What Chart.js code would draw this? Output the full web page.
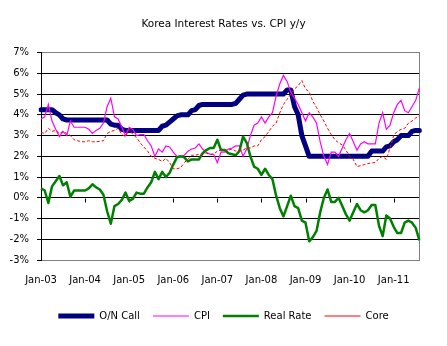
<!DOCTYPE html>
<html>
<head>
<meta charset="utf-8">
<script src="https://cdn.jsdelivr.net/npm/chart.js@4.4.1/dist/chart.umd.min.js"></script>
<style>
  html, body { margin: 0; padding: 0; background: #fff; }
  #c { display: block; }
</style>
</head>
<body>
<canvas id="c" width="447" height="346"></canvas>
<script>
const categories = [
  "Jan-03","Feb-03","Mar-03","Apr-03","May-03","Jun-03","Jul-03","Aug-03","Sep-03","Oct-03","Nov-03","Dec-03",
  "Jan-04","Feb-04","Mar-04","Apr-04","May-04","Jun-04","Jul-04","Aug-04","Sep-04","Oct-04","Nov-04","Dec-04",
  "Jan-05","Feb-05","Mar-05","Apr-05","May-05","Jun-05","Jul-05","Aug-05","Sep-05","Oct-05","Nov-05","Dec-05",
  "Jan-06","Feb-06","Mar-06","Apr-06","May-06","Jun-06","Jul-06","Aug-06","Sep-06","Oct-06","Nov-06","Dec-06",
  "Jan-07","Feb-07","Mar-07","Apr-07","May-07","Jun-07","Jul-07","Aug-07","Sep-07","Oct-07","Nov-07","Dec-07",
  "Jan-08","Feb-08","Mar-08","Apr-08","May-08","Jun-08","Jul-08","Aug-08","Sep-08","Oct-08","Nov-08","Dec-08",
  "Jan-09","Feb-09","Mar-09","Apr-09","May-09","Jun-09","Jul-09","Aug-09","Sep-09","Oct-09","Nov-09","Dec-09",
  "Jan-10","Feb-10","Mar-10","Apr-10","May-10","Jun-10","Jul-10","Aug-10","Sep-10","Oct-10","Nov-10","Dec-10",
  "Jan-11","Feb-11","Mar-11","Apr-11","May-11","Jun-11","Jul-11","Aug-11"
];

const onCall = [
  4.25,4.25,4.25,4.25,4.1,4.0,3.8,3.75,3.75,3.75,3.75,3.75,
  3.75,3.75,3.75,3.75,3.75,3.75,3.75,3.55,3.5,3.5,3.3,3.25,
  3.25,3.25,3.25,3.25,3.25,3.25,3.25,3.25,3.25,3.45,3.5,3.65,
  3.8,3.95,4.0,4.0,4.0,4.2,4.25,4.45,4.5,4.5,4.5,4.5,
  4.5,4.5,4.5,4.5,4.5,4.55,4.75,4.95,5.0,5.0,5.0,5.0,
  5.0,5.0,5.0,5.0,5.0,5.0,5.0,5.2,5.2,4.4,4.0,3.0,
  2.5,2.0,2.0,2.0,2.0,2.0,2.0,2.0,2.0,2.0,2.0,2.0,
  2.0,2.0,2.0,2.0,2.0,2.0,2.25,2.25,2.25,2.25,2.45,2.5,
  2.7,2.8,3.0,3.0,3.0,3.2,3.25,3.25
];

const cpi = [
  3.8,3.9,4.5,3.7,3.3,2.95,3.2,3.0,3.7,3.4,3.4,3.4,
  3.4,3.3,3.1,3.25,3.35,3.6,4.4,4.8,3.9,3.8,3.4,3.0,
  3.4,3.3,3.0,3.05,3.05,2.75,2.5,2.0,2.35,2.2,2.5,2.45,
  2.2,2.0,2.0,2.05,2.25,2.35,2.4,2.6,2.35,2.2,2.1,2.1,
  1.7,2.2,2.2,2.35,2.4,2.5,2.5,2.0,2.35,3.0,3.5,3.6,
  3.9,3.6,3.9,4.1,4.9,5.5,5.9,5.6,5.1,4.8,4.5,4.1,
  3.7,4.1,3.9,3.6,2.7,2.0,1.6,2.2,2.2,2.0,2.4,2.8,
  3.1,2.7,2.3,2.6,2.7,2.6,2.6,2.6,3.6,4.1,3.3,3.5,
  4.1,4.5,4.7,4.2,4.1,4.4,4.7,5.3
];

const realRate = [
  0.45,0.35,-0.25,0.55,0.8,1.05,0.6,0.75,0.05,0.35,0.35,0.35,
  0.35,0.45,0.65,0.5,0.4,0.15,-0.65,-1.25,-0.4,-0.3,-0.1,0.25,
  -0.15,-0.05,0.25,0.2,0.2,0.5,0.75,1.25,0.9,1.25,1.0,1.2,
  1.6,1.95,2.0,1.95,1.75,1.85,1.85,1.85,2.15,2.3,2.4,2.4,
  2.8,2.3,2.3,2.15,2.1,2.05,2.25,2.95,2.65,2.0,1.5,1.4,
  1.1,1.4,1.1,0.9,0.1,-0.5,-0.9,-0.4,0.1,-0.4,-0.5,-1.1,
  -1.2,-2.1,-1.9,-1.6,-0.7,0.0,0.4,-0.2,-0.2,0.0,-0.4,-0.8,
  -1.1,-0.7,-0.3,-0.6,-0.7,-0.6,-0.35,-0.35,-1.35,-1.85,-0.85,-1.0,
  -1.4,-1.7,-1.7,-1.2,-1.1,-1.2,-1.45,-2.05
];

const core = [
  3.15,3.1,3.35,3.2,3.25,3.1,3.2,3.1,3.0,2.8,2.75,2.7,
  2.7,2.75,2.7,2.7,2.72,2.75,3.1,3.2,3.25,3.35,3.05,2.95,
  3.3,3.05,2.9,2.65,2.45,2.25,2.0,1.9,1.85,1.75,1.9,1.7,
  1.4,1.4,1.45,1.7,1.85,2.05,2.05,2.1,2.1,2.15,2.1,2.1,
  2.25,2.3,2.3,2.3,2.35,2.25,2.3,2.3,2.4,2.4,2.5,2.5,
  2.8,2.95,3.2,3.45,3.6,4.1,4.5,4.75,5.0,5.25,5.4,5.65,
  5.25,5.1,4.65,4.35,4.0,3.7,3.35,3.05,2.8,2.65,2.55,2.3,
  2.0,1.85,1.5,1.55,1.6,1.65,1.68,1.7,1.9,2.0,1.85,2.4,
  3.0,3.2,3.3,3.35,3.6,3.7,3.85,3.95
];

const seriesNames = ["O/N Call", "CPI", "Real Rate", "Core"];
const yMin = -3, yMax = 7, yStep = 1;
const labelEvery = 12;

const FONT = "'DejaVu Sans', sans-serif";

// year tick marks hanging from the 0% line (Excel category axis crossing at zero)
const zeroAxisTicks = {
  id: 'zeroAxisTicks',
  beforeDatasetsDraw(chart) {
    const xs = chart.scales.x, ys = chart.scales.y, ctx = chart.ctx;
    const y0 = Math.round(ys.getPixelForValue(0)) + 0.5;
    ctx.save();
    ctx.strokeStyle = '#000';
    ctx.lineWidth = 1;
    ctx.beginPath();
    for (let i = labelEvery; i < categories.length; i += labelEvery) {
      const x = Math.round(xs.getPixelForValue(i)) + 0.5;
      ctx.moveTo(x, y0);
      ctx.lineTo(x, y0 + 4);
    }
    ctx.stroke();
    ctx.restore();
  }
};

new Chart(document.getElementById('c'), {
  type: 'line',
  data: {
    labels: categories,
    datasets: [
      { label: seriesNames[0], data: onCall, borderColor: '#000080', backgroundColor: '#000080',
        borderWidth: 5, order: 4, borderJoinStyle: 'round', borderCapStyle: 'round' },
      { label: seriesNames[1], data: cpi, borderColor: '#FF00FF', backgroundColor: '#FF00FF',
        borderWidth: 1.2, order: 3 },
      { label: seriesNames[2], data: realRate, borderColor: '#008000', backgroundColor: '#008000',
        borderWidth: 2.5, order: 2, borderJoinStyle: 'round' },
      { label: seriesNames[3], data: core, borderColor: '#FF0000', backgroundColor: '#FF0000',
        borderWidth: 1, borderDash: [3, 2], order: 1 }
    ]
  },
  options: {
    responsive: false,
    animation: false,
    devicePixelRatio: 1,
    elements: { point: { radius: 0 }, line: { tension: 0 } },
    layout: { padding: { top: 1, right: 0, bottom: 15, left: 0 } },
    plugins: {
      title: {
        display: true,
        text: 'Korea Interest Rates vs. CPI y/y',
        color: '#000',
        font: { family: FONT, size: 10.5, weight: 'normal' },
        padding: { top: 17, bottom: 22 }
      },
      legend: {
        display: true,
        position: 'bottom',
        labels: {
          color: '#000',
          font: { family: FONT, size: 10 },
          usePointStyle: true,
          pointStyle: 'line',
          pointStyleWidth: 36,
          padding: 13,
          sort: (a, b) => a.datasetIndex - b.datasetIndex
        }
      },
      tooltip: { enabled: false }
    },
    scales: {
      x: {
        type: 'category',
        offset: false,
        grid: { display: false, drawTicks: false },
        border: { display: true, color: '#808080', width: 1 },
        ticks: {
          autoSkip: false,
          maxRotation: 0,
          minRotation: 0,
          padding: 14,
          color: '#000',
          font: { family: FONT, size: 10 },
          callback: function (value, index) {
            return index % labelEvery === 0 ? this.getLabelForValue(value) : null;
          }
        },
        afterFit: (s) => { s.height = 38; }
      },
      y: {
        min: yMin, max: yMax,
        grid: {
          color: (c) => (c.tick && (c.tick.value === yMin || c.tick.value === yMax)) ? '#808080' : '#000',
          tickColor: '#000',
          tickLength: 4,
          drawTicks: true,
          lineWidth: 1
        },
        border: { display: true, color: '#000', width: 1 },
        ticks: {
          stepSize: yStep,
          padding: 8,
          color: '#000',
          font: { family: FONT, size: 10 },
          callback: (v) => v + '%'
        },
        afterFit: (s) => { s.width = 41; }
      },
      y2: {
        position: 'right',
        display: true,
        grid: { display: false, drawTicks: false },
        ticks: { display: false },
        border: { display: true, color: '#808080', width: 1 },
        afterFit: (s) => { s.width = 27.6; }
      }
    }
  },
  plugins: [zeroAxisTicks]
});
</script>
</body>
</html>
